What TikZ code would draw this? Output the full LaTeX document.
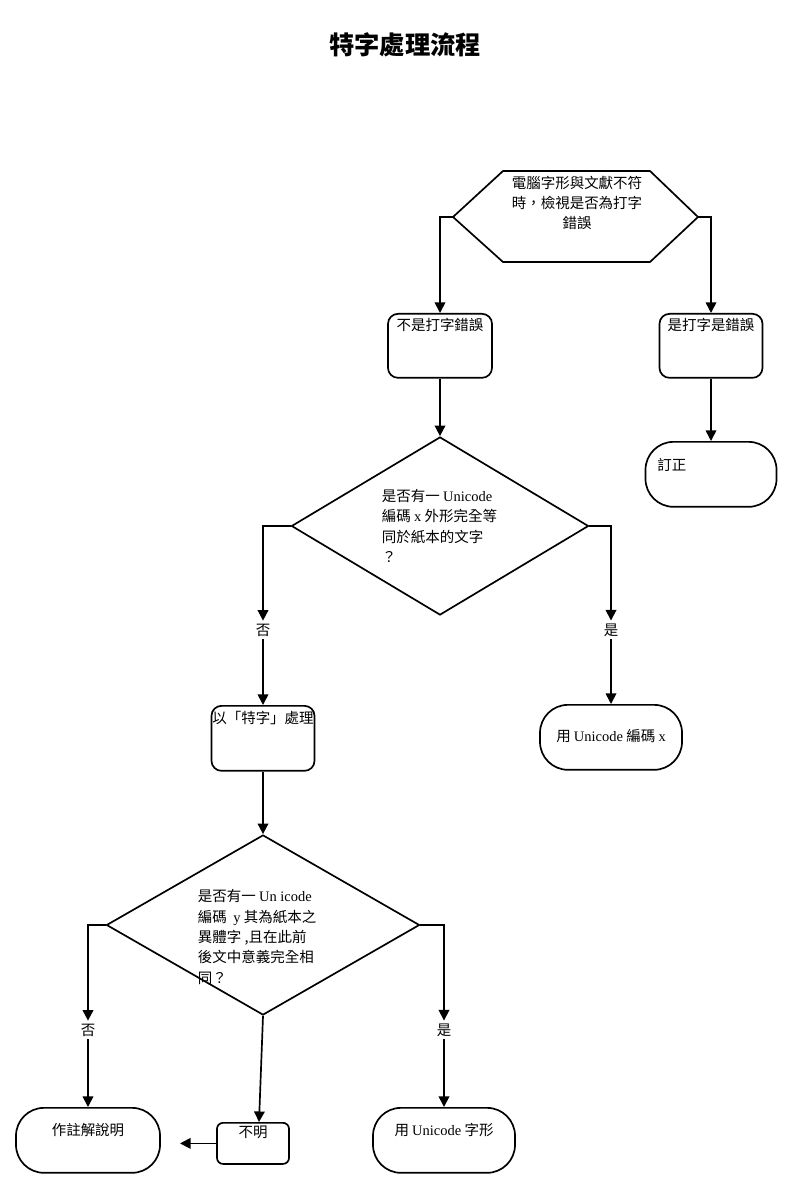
\documentclass[tikz,border=0pt]{standalone}
\usepackage{fontspec}
\setmainfont{Liberation Serif}
\newfontfamily\cjk{Noto Sans CJK TC}
\usetikzlibrary{arrows.meta, shapes.geometric}

% latin words inside the chinese labels
\newcommand\tms[1]{{\rmfamily #1}}

\begin{document}
\begin{tikzpicture}[x=0.025cm, y=-0.025cm,
    font=\cjk\fontsize{10.3}{14.5}\selectfont,
    box/.style={draw, line width=1.2pt, rounded corners=0.25cm, anchor=north, inner sep=2pt},
    term/.style={draw, line width=1.2pt, rounded corners=0.7cm, anchor=north, inner sep=2pt},
    query/.style={draw, line width=1.2pt, shape=diamond, inner sep=0pt},
    arr/.style={line width=1.2pt, -{Triangle[length=7.5pt, width=7.5pt]}},
    lbl/.style={inner sep=2pt}]

    \useasboundingbox (0,0) rectangle (800,1200);

    % ==========================================
    % TITLE
    % ==========================================
    \node[font=\cjk\bfseries\fontsize{18}{20}\selectfont] (title) at (405,45) {特字處理流程};

    % ==========================================
    % START: hexagon
    % ==========================================
    \coordinate (hexW) at (453,217);
    \coordinate (hexE) at (698,217);
    \draw[line width=1.2pt] (hexW) -- (503,171) -- (650,171) -- (hexE) -- (650,262) -- (503,262) -- cycle;
    \node[align=center] (hex) at (577,203) {電腦字形與文獻不符\\時，檢視是否為打字\\錯誤};

    % ==========================================
    % FIRST SPLIT: typing error or not
    % ==========================================
    \node[box, minimum width=2.6cm, text height=10.1pt, text depth=31.4pt] (notypo) at (440,313) {不是打字錯誤};
    \node[box, minimum width=2.575cm, text height=10.1pt, text depth=31.4pt] (typo) at (711,313) {是打字是錯誤};
    \node[term, minimum width=3.275cm, text width=2.675cm, inner xsep=8.5pt, align=left,
          text height=18.6pt, text depth=23.6pt] (fix) at (711,441) {訂正};

    \draw[arr] (hexW) -| (notypo.north);
    \draw[arr] (hexE) -| (typo.north);
    \draw[arr] (typo.south) -- (fix.north);

    % ==========================================
    % SECOND SPLIT: same shape in Unicode?
    % ==========================================
    \node[query, minimum width=7.425cm, minimum height=4.45cm] (q1) at (440,526) {};
    \node[align=left, anchor=west] (q1txt) at (377,526)
        {是否有一 \tms{Unicode}\\編碼 \tms{x} 外形完全等\\同於紙本的文字\\？};

    \node[lbl] (no1) at (263,630) {否};
    \node[lbl] (yes1) at (611,630) {是};

    \node[box, minimum width=2.575cm, inner xsep=0pt, text height=10.8pt, text depth=31.4pt] (special) at (263,705) {以「特字」處理};
    \node[term, minimum width=3.55cm, text height=24.3pt, text depth=17.9pt] (usex) at (611,704) {用 \tms{Unicode} 編碼 \tms{x}};

    \draw[arr] (notypo.south) -- (q1.north);
    \draw[arr] (q1.west) -| (no1.north);
    \draw[arr] (no1.south) -- (special.north);
    \draw[arr] (q1.east) -| (yes1.north);
    \draw[arr] (yes1.south) -- (usex.north);

    % ==========================================
    % THIRD SPLIT: variant form in Unicode?
    % ==========================================
    \node[query, minimum width=7.825cm, minimum height=4.5cm] (q2) at (263,925) {};
    \node[align=left, anchor=west] (q2txt) at (193,937)
        {是否有一 \tms{Un icode}\\編碼\ \ \tms{y} 其為紙本之\\異體字 ,且在此前\\後文中意義完全相\\同？};

    \node[lbl] (no2) at (88,1030) {否};
    \node[lbl] (yes2) at (444,1030) {是};

    \node[term, minimum width=3.6cm, text height=17.9pt, text depth=24.3pt] (note) at (88,1107) {作註解說明};
    \node[box, rounded corners=0.15cm, minimum width=1.8cm, text height=8.7pt, text depth=16.5pt] (unclear) at (253,1122) {不明};
    \node[term, minimum width=3.55cm, text height=17.9pt, text depth=24.3pt] (glyph) at (444,1107) {用 \tms{Unicode} 字形};
    \coordinate (noteend) at (180,1142);

    \draw[arr] (special.south) -- (q2.north);
    \draw[arr] (q2.west) -| (no2.north);
    \draw[arr] (no2.south) -- (note.north);
    \draw[arr] (q2.east) -| (yes2.north);
    \draw[arr] (yes2.south) -- (glyph.north);
    \draw[arr] (q2.south) -- ([xshift=0.15cm]unclear.north);
    \draw[arr] (unclear.west) -- (unclear.west -| noteend);

\end{tikzpicture}
\end{document}
